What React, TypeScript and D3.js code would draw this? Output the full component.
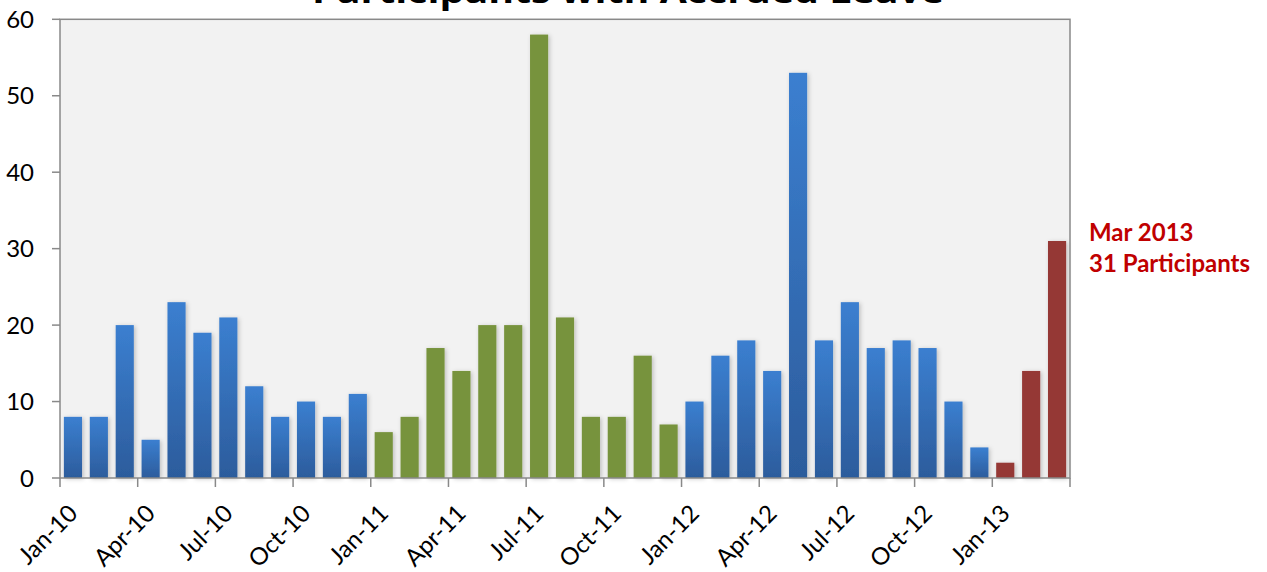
import React from "react";
import * as d3 from "d3";

const months: string[] = [
  "Jan-10","Feb-10","Mar-10","Apr-10","May-10","Jun-10","Jul-10","Aug-10","Sep-10","Oct-10","Nov-10","Dec-10",
  "Jan-11","Feb-11","Mar-11","Apr-11","May-11","Jun-11","Jul-11","Aug-11","Sep-11","Oct-11","Nov-11","Dec-11",
  "Jan-12","Feb-12","Mar-12","Apr-12","May-12","Jun-12","Jul-12","Aug-12","Sep-12","Oct-12","Nov-12","Dec-12",
  "Jan-13","Feb-13","Mar-13",
];
const participants: number[] = [
  8, 8, 20, 5, 23, 19, 21, 12, 8, 10, 8, 11,
  6, 8, 17, 14, 20, 20, 58, 21, 8, 8, 16, 7,
  10, 16, 18, 14, 53, 18, 23, 17, 18, 17, 10, 4,
  2, 14, 31,
];
// period group of each month: "a" = 2010 & 2012, "b" = 2011, "c" = 2013
const periodOf: string[] = [
  ..."aaaaaaaaaaaa", ..."bbbbbbbbbbbb", ..."aaaaaaaaaaaa", ..."ccc",
];
const yTicks: number[] = [0, 10, 20, 30, 40, 50, 60];
const title = "Participants with Accrued Leave";
const noteLines: string[] = ["Mar 2013", "31 Participants"];

const W = 1267, H = 572;
const left = 60, right = 1070, top = 19.3, bottom = 478;

export default function App() {
  const x = d3.scaleBand<string>().domain(months).range([left, right]).paddingInner(0.3).paddingOuter(0.15);
  const y = d3.scaleLinear().domain([0, 60]).range([bottom, top]);
  const step = x.step();
  const off = (step - x.bandwidth()) / 2;
  const tickIdx = d3.range(0, months.length + 1, 3);
  const tickX = (i: number) => (i < months.length ? (x(months[i]) as number) - off : right);
  const fill = (p: string) => (p === "a" ? "url(#blueGrad)" : p === "b" ? "#77933c" : "#953735");
  const axisColor = "#898989";
  const font = "Lato, 'Open Sans', sans-serif";

  return (
    <svg width={W} height={H} style={{ position: "absolute", left: 0, top: 0, background: "#fff" }} fontFamily={font}>
      <defs>
        <linearGradient id="blueGrad" x1="0" y1="0" x2="0" y2="1">
          <stop offset="0" stopColor="#3b7fd0" />
          <stop offset="1" stopColor="#2c5c9c" />
        </linearGradient>
        <filter id="shadow" x="-30%" y="-10%" width="160%" height="120%">
          <feDropShadow dx="1.5" dy="1" stdDeviation="2" floodColor="#000" floodOpacity="0.22" />
        </filter>
      </defs>
      <text x={628} y={3} textAnchor="middle" fontSize={32} fontWeight="bold" fill="#000"
        textLength={632} lengthAdjust="spacingAndGlyphs" fontFamily="'Open Sans', sans-serif">{title}</text>
      <rect x={left} y={top} width={right - left} height={bottom - top} fill="#f2f2f2" />
      <g filter="url(#shadow)">
        {months.map((m, i) => (
          <rect key={m} x={x(m)} y={y(participants[i])} width={x.bandwidth()}
            height={bottom - y(participants[i])} fill={fill(periodOf[i])} />
        ))}
      </g>
      <rect x={left} y={top} width={right - left} height={bottom - top} fill="none" stroke={axisColor} strokeWidth={1.5} />
      {yTicks.map((t) => (
        <g key={t}>
          <line x1={52} x2={left} y1={y(t)} y2={y(t)} stroke={axisColor} strokeWidth={1.5} />
          <text x={34} y={y(t)} dy="0.36em" textAnchor="end" fontSize={24} fill="#000">{t}</text>
        </g>
      ))}
      {tickIdx.map((i) => (
        <line key={i} x1={tickX(i)} x2={tickX(i)} y1={bottom} y2={487} stroke={axisColor} strokeWidth={1.5} />
      ))}
      {tickIdx.filter((i) => i < months.length).map((i) => (
        <text key={months[i]} transform={`translate(${tickX(i) + 19},515) rotate(-45)`} textAnchor="end"
          fontSize={24} fill="#000">{months[i]}</text>
      ))}
      {noteLines.map((l, i) => (
        <text key={l} x={1089} y={241 + i * 31} fontSize={24} fontWeight="bold" fill="#c00000">{l}</text>
      ))}
    </svg>
  );
}
